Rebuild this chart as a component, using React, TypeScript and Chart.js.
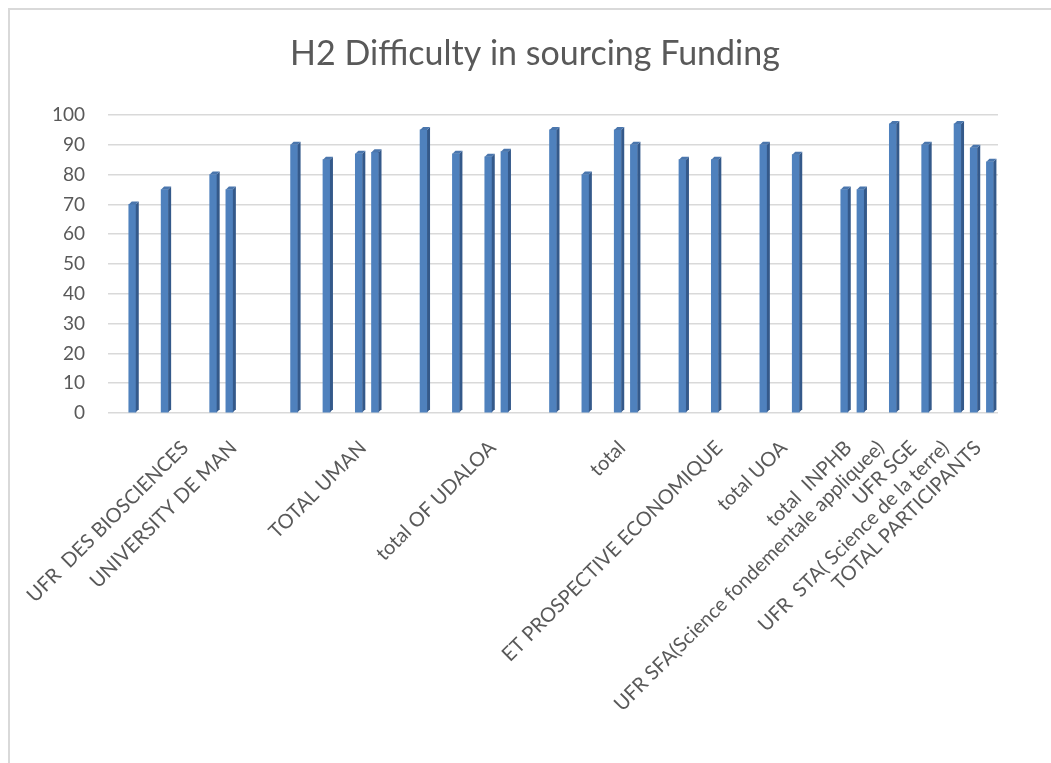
import React, { useEffect, useRef } from "react";
import { Chart, registerables } from "chart.js";

Chart.register(...registerables);

const titleText = "H2 Difficulty in sourcing Funding";

// 55 category slots; most slots carry no label, and some carry no bar
const categories: string[] = [
  "", "", "", "", "", "UFR  DES BIOSCIENCES", "", "", "UNIVERSITY DE MAN", "", "",
  "", "", "", "", "", "TOTAL UMAN", "", "", "", "", "",
  "", "", "total OF UDALOA", "", "", "", "", "", "", "",
  "total", "", "", "", "", "", "ET PROSPECTIVE ECONOMIQUE", "", "", "",
  "total UOA", "", "", "", "total  INPHB", "", "UFR SFA(Science fondementale appliquee)", "", "UFR SGE", "",
  "UFR  STA( Science de la terre)", "", "TOTAL PARTICIPANTS",
];

const values: (number | null)[] = [
  null, 70, null, 75, null, null, 80, 75, null, null, null,
  90, null, 85, null, 87, 87.5, null, null, 95, null, 87,
  null, 86, 87.7, null, null, 95, null, 80, null, 95,
  90, null, null, 85, null, 85, null, null, 90, null,
  86.7, null, null, 75, 75, null, 97, null, 90, null,
  97, 89, 84.3,
];

const yTicks: number[] = [0, 10, 20, 30, 40, 50, 60, 70, 80, 90, 100];

const FONT = "Lato, 'Open Sans', sans-serif";
const TEXT = "#595959";

// Title drawn centred on the (wider-than-window) chart box
const titlePlugin = {
  id: "centredTitle",
  afterDraw(chart: any) {
    const ctx = chart.ctx;
    ctx.save();
    ctx.fillStyle = TEXT;
    ctx.font = `normal 34px ${FONT}`;
    ctx.textAlign = "center";
    ctx.textBaseline = "middle";
    ctx.fillText(titleText, chart.width / 2, 44);
    ctx.restore();
  },
};

const bar3d = {
  id: "bar3d",
  afterDatasetsDraw(chart: any) {
    const ctx = chart.ctx;
    const meta = chart.getDatasetMeta(0);
    const d = 3;
    meta.data.forEach((el: any, i: number) => {
      if (values[i] == null) return;
      const { x, y, base, width } = el.getProps(["x", "y", "base", "width"], true);
      const l = x - width / 2;
      const r = x + width / 2;
      ctx.save();
      ctx.fillStyle = "#34598a";
      ctx.beginPath();
      ctx.moveTo(r, y);
      ctx.lineTo(r + d, y - d);
      ctx.lineTo(r + d, base - d);
      ctx.lineTo(r, base);
      ctx.closePath();
      ctx.fill();
      ctx.fillStyle = "#4a76ad";
      ctx.beginPath();
      ctx.moveTo(l, y);
      ctx.lineTo(l + d, y - d);
      ctx.lineTo(r + d, y - d);
      ctx.lineTo(r, y);
      ctx.closePath();
      ctx.fill();
      ctx.restore();
    });
  },
};

export default function App() {
  const ref = useRef<HTMLCanvasElement | null>(null);

  useEffect(() => {
    if (!ref.current) return;
    const chart = new Chart(ref.current, {
      type: "bar",
      data: {
        labels: categories,
        datasets: [
          {
            data: values as any,
            backgroundColor: "#4f81bd",
            borderWidth: 0,
            barThickness: 7,
          },
        ],
      },
      plugins: [bar3d, titlePlugin],
      options: {
        responsive: false,
        animation: false,
        devicePixelRatio: 1,
        layout: { padding: { left: 0, right: 62, top: 105, bottom: 0 } },
        plugins: {
          legend: { display: false },
          tooltip: { enabled: false },
          title: { display: false },
        },
        scales: {
          x: {
            offset: true,
            grid: { display: false, drawTicks: false },
            border: { display: false },
            ticks: {
              autoSkip: false,
              maxRotation: 45,
              minRotation: 45,
              padding: 23,
              labelOffset: -12,
              color: TEXT,
              font: { family: FONT, size: 20 },
            },
            afterFit: (scale: any) => {
              scale.height = 350;
            },
          },
          y: {
            min: 0,
            max: 100,
            afterBuildTicks: (scale: any) => {
              scale.ticks = yTicks.map((v) => ({ value: v }));
            },
            grid: { color: "#d9d9d9", lineWidth: 1.5, drawTicks: false },
            border: { display: false },
            ticks: {
              padding: 23,
              color: TEXT,
              font: { family: FONT, size: 19 },
            },
            afterFit: (scale: any) => {
              scale.width = 98;
            },
          },
        },
      },
    });
    return () => chart.destroy();
  }, []);

  return (
    <div
      style={{
        position: "fixed",
        left: 8,
        top: 8,
        width: 1043,
        height: 755,
        borderTop: "2px solid #d9d9d9",
        borderLeft: "2px solid #d9d9d9",
        overflow: "hidden",
        background: "#fff",
        boxSizing: "border-box",
      }}
    >
      <canvas
        ref={ref}
        width={1050}
        height={753}
        style={{ position: "absolute", left: 0, top: 0, width: 1050, height: 753 }}
      />
    </div>
  );
}
